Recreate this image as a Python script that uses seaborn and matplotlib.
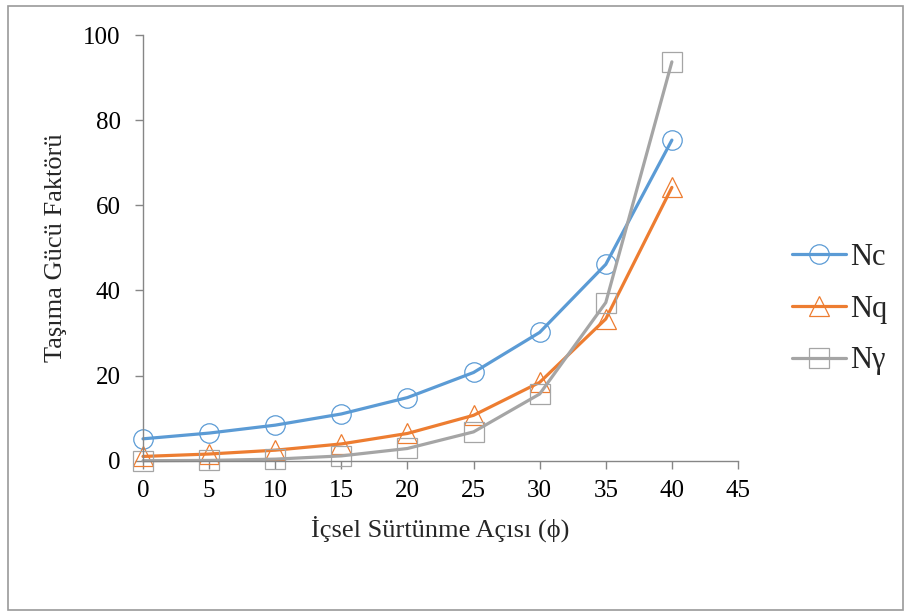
import matplotlib
matplotlib.use("Agg")
import matplotlib.pyplot as plt
import seaborn as sns
import pandas as pd
from matplotlib.patches import Rectangle

phi = [0, 5, 10, 15, 20, 25, 30, 35, 40]
Nc = [5.14, 6.49, 8.35, 10.98, 14.83, 20.72, 30.14, 46.12, 75.31]
Nq = [1.00, 1.57, 2.47, 3.94, 6.40, 10.66, 18.40, 33.30, 64.20]
Ng = [0.00, 0.07, 0.37, 1.13, 2.87, 6.77, 15.67, 37.15, 93.69]
series_names = ["Nc", "Nq", "Nγ"]
x_ticks = [0, 5, 10, 15, 20, 25, 30, 35, 40, 45]
y_ticks = [0, 20, 40, 60, 80, 100]
x_label = "İçsel Sürtünme Açısı (ϕ)"
y_label = "Taşıma Gücü Faktörü"

colors = ["#5B9BD5", "#ED7D31", "#A5A5A5"]
markers = ["o", "^", "s"]

sns.set_theme(style="white")
plt.rcParams['font.family'] = ['Liberation Serif', 'DejaVu Serif']

fig = plt.figure(figsize=(9.06, 6.12), dpi=100)
ax = fig.add_axes([143/906, 1-460.7/612, (738-143)/906, (460.7-35)/612])

df = pd.DataFrame({"phi": phi, "Nc": Nc, "Nq": Nq, "Nγ": Ng})
for name, c, m in zip(series_names, colors, markers):
    sns.lineplot(data=df, x="phi", y=name, ax=ax, color=c, marker=m,
                 markersize=14, markerfacecolor="none", markeredgecolor=c,
                 markeredgewidth=0.9, linewidth=2.3, clip_on=False, label=name)
for line in ax.get_lines():
    line.set_markerfacecolor("none")
    line.set_markeredgecolor(line.get_color())

ax.set_xlim(0, 45)
ax.set_ylim(0, 100)
ax.set_xticks(x_ticks)
ax.set_yticks(y_ticks)
ax.set_xlabel(x_label, fontsize=19, labelpad=10)
ax.set_ylabel(y_label, fontsize=19, labelpad=12)
for s in ["top", "right"]:
    ax.spines[s].set_visible(False)
for s in ["left", "bottom"]:
    ax.spines[s].set_color("#868686")
    ax.spines[s].set_linewidth(1.0)
ax.tick_params(axis="both", which="major", direction="out", length=6,
               width=1.0, color="#868686", labelsize=18, labelcolor="black",
               left=True, bottom=True)
ax.tick_params(axis="y", pad=10)
ax.tick_params(axis="x", pad=8)
ax.grid(False)

h, l = ax.get_legend_handles_labels()
if ax.get_legend():
    ax.get_legend().remove()
fig.legend(h, l, loc="center left", bbox_to_anchor=(780/906, 1-309/612),
           frameon=False, fontsize=22, handlelength=1.75,
           labelspacing=0.75, handletextpad=0.15, borderaxespad=0)

fig.patches.append(Rectangle((8/906, 2/612), (903-8)/906, (606-2)/612,
                             transform=fig.transFigure, fill=False,
                             edgecolor="#9A9A9A", linewidth=1.2))

fig.savefig("out.png", dpi=100)
